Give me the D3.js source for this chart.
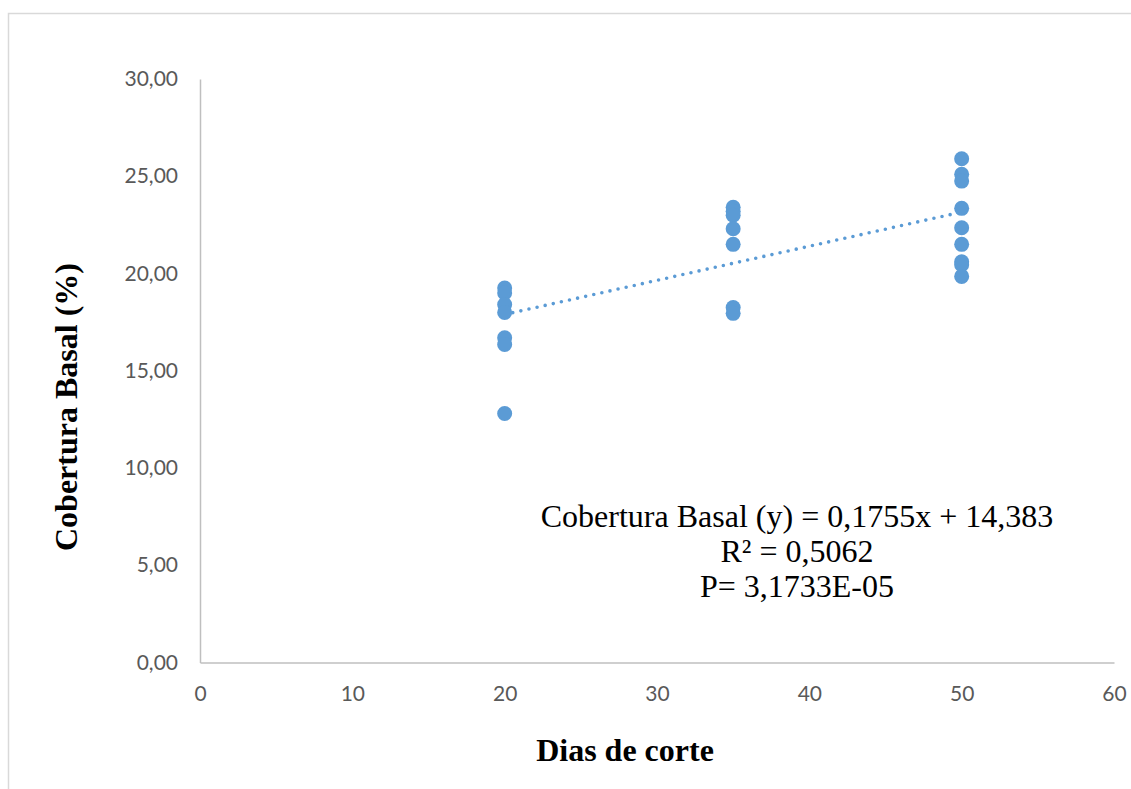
<!DOCTYPE html>
<html>
<head>
<meta charset="utf-8">
<script src="https://cdn.jsdelivr.net/npm/d3@7"></script>
<style>
  html, body { margin: 0; padding: 0; background: #fff; }
  svg { display: block; }
</style>
</head>
<body>
<svg id="chart" width="1131" height="789"></svg>
<script>
// Observations: cutting interval (days) and basal cover (%)
const days20 = [19.25, 19.0, 18.4, 18.0, 16.7, 16.35, 12.8];
const days35 = [23.4, 23.2, 23.0, 22.3, 21.5, 18.25, 17.95];
const days50 = [25.9, 25.1, 24.75, 23.35, 22.35, 21.5, 20.6, 20.45, 19.85];
const groups = [
  { day: 20, values: days20 },
  { day: 35, values: days35 },
  { day: 50, values: days50 }
];

// Linear fit reported for the series
const slope = 0.1755;
const intercept = 14.383;
const fitRange = [20, 50];
const equationLines = [
  "Cobertura Basal (y) = 0,1755x + 14,383",
  "R² = 0,5062",
  "P= 3,1733E-05"
];

const xTicks = [0, 10, 20, 30, 40, 50, 60];
const yTicks = [0, 5, 10, 15, 20, 25, 30];
const xTitle = "Dias de corte";
const yTitle = "Cobertura Basal (%)";

const points = groups.flatMap(g => g.values.map(v => ({ x: g.day, y: v })));

const svg = d3.select("#chart");
const color = "#5b9bd5";

// Chart border
svg.append("rect")
  .attr("x", 8.5).attr("y", 13.5)
  .attr("width", 1140).attr("height", 800)
  .attr("fill", "none").attr("stroke", "#d9d9d9").attr("stroke-width", 1.5);

const x = d3.scaleLinear().domain([0, 60]).range([200, 1114]);
const y = d3.scaleLinear().domain([0, 30]).range([662.5, 79]);

// Axes
const xAxis = svg.append("g")
  .attr("transform", `translate(0,${y(0)})`)
  .call(d3.axisBottom(x).tickValues(xTicks).tickSize(0).tickPadding(24)
    .tickFormat(d => String(d)));
const yAxis = svg.append("g")
  .attr("transform", `translate(${x(0)},0)`)
  .call(d3.axisLeft(y).tickValues(yTicks).tickSize(0).tickPadding(22)
    .tickFormat(d => d.toFixed(2).replace(".", ",")));

[xAxis, yAxis].forEach(ax => {
  ax.select(".domain").attr("stroke", "#bfbfbf").attr("stroke-width", 1.5);
  ax.selectAll("text")
    .attr("fill", "#595959")
    .style("font-family", "Lato, 'Open Sans', sans-serif")
    .style("font-size", "21px");
});

// Trend line
const fit = fitRange.map(d => ({ x: d, y: slope * d + intercept }));
svg.append("path")
  .datum(fit)
  .attr("d", d3.line().x(d => x(d.x)).y(d => y(d.y)))
  .attr("fill", "none")
  .attr("stroke", color)
  .attr("stroke-width", 3.6)
  .attr("stroke-linecap", "round")
  .attr("stroke-dasharray", "0 8.3");

// Points
svg.append("g").selectAll("circle")
  .data(points)
  .join("circle")
  .attr("cx", d => x(d.x))
  .attr("cy", d => y(d.y))
  .attr("r", 7.5)
  .attr("fill", color);

// Regression label
svg.append("text")
  .attr("x", 797).attr("y", 527)
  .attr("text-anchor", "middle")
  .style("font-family", "'Liberation Serif', 'Times New Roman', serif")
  .style("font-size", "32px")
  .attr("fill", "#000")
  .selectAll("tspan")
  .data(equationLines)
  .join("tspan")
  .attr("x", 797)
  .attr("dy", (d, i) => i === 0 ? 0 : 35)
  .text(d => d);

// Axis titles
svg.append("text")
  .attr("x", 625).attr("y", 761)
  .attr("text-anchor", "middle")
  .style("font-family", "'Liberation Serif', 'Times New Roman', serif")
  .style("font-size", "32px").style("font-weight", "bold")
  .text(xTitle);

svg.append("text")
  .attr("transform", "translate(77,407) rotate(-90)")
  .attr("text-anchor", "middle")
  .style("font-family", "'Liberation Serif', 'Times New Roman', serif")
  .style("font-size", "32px").style("font-weight", "bold")
  .text(yTitle);
</script>
</body>
</html>
